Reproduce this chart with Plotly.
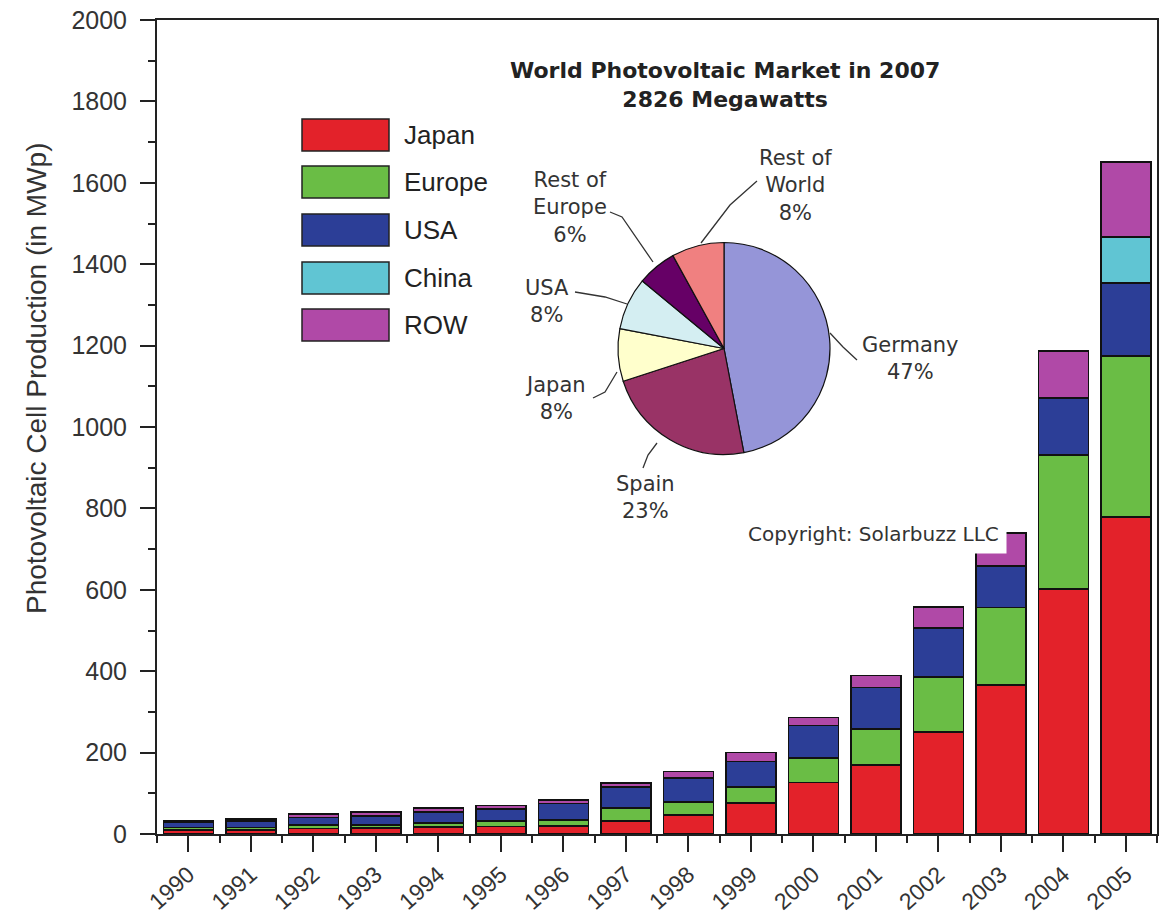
import plotly.graph_objects as go

# ---------------- data ----------------
years = [1990, 1991, 1992, 1993, 1994, 1995, 1996, 1997,
         1998, 1999, 2000, 2001, 2002, 2003, 2004, 2005]
series_names = ["Japan", "Europe", "USA", "China", "ROW"]
japan  = [10, 10, 14, 15, 17, 19, 20, 32, 47, 76, 126, 170, 251, 366, 602, 779]
europe = [6, 6, 8, 7, 10, 13, 15, 32, 32, 40, 61, 88, 135, 190, 329, 395]
usa    = [12, 16, 18, 22, 27, 29, 40, 51, 58, 62, 79, 102, 120, 103, 140, 180]
china  = [0, 0, 0, 0, 0, 0, 0, 0, 0, 0, 0, 0, 0, 0, 0, 113]
row    = [4, 5, 9, 10, 10, 9, 9, 10, 16, 22, 20, 29, 52, 80, 116, 184]
series_values = [japan, europe, usa, china, row]
series_colors = ["#e3222a", "#6abd45", "#2c3e97", "#60c5d3", "#b049a7"]

y_ticks = [0, 200, 400, 600, 800, 1000, 1200, 1400, 1600, 1800, 2000]

pie_labels = ["Germany", "Spain", "Japan", "USA", "Rest of Europe", "Rest of World"]
pie_values = [47, 23, 8, 8, 6, 8]
pie_colors = ["#9595d8", "#993366", "#ffffcc", "#d4eef2", "#660066", "#f08080"]
pie_title = "World Photovoltaic Market in 2007<br>2826 Megawatts"

# ---------------- layout helpers ----------------
W, H = 1163, 914
L, R, T, B = 157, 6, 20, 80
PW, PH = W - L - R, H - T - B


def px(x):
    return (x - L) / PW


def py(y):
    return (H - B - y) / PH


fig = go.Figure()

for name, vals, col in zip(series_names, series_values, series_colors):
    fig.add_trace(go.Bar(
        x=years, y=vals, name=name, width=0.8,
        marker=dict(color=col, line=dict(color="#111111", width=1.5)),
        showlegend=False,
    ))

fig.add_trace(go.Pie(
    labels=pie_labels, values=pie_values, sort=False, direction="clockwise",
    rotation=0, textinfo="none", hoverinfo="label+percent",
    marker=dict(colors=pie_colors, line=dict(color="#111111", width=1.2)),
    domain=dict(x=[px(618), px(830)], y=[py(455), py(242)]),
    showlegend=False,
))

shapes = []
annotations = []

# custom legend with large swatches
row_centers = [135, 182, 230, 278, 325]
for name, col, yc in zip(series_names, series_colors, row_centers):
    shapes.append(dict(type="rect", xref="paper", yref="paper",
                       x0=px(302), x1=px(389), y0=py(yc + 16), y1=py(yc - 16),
                       fillcolor=col, line=dict(color="#222222", width=1.5)))
    annotations.append(dict(xref="paper", yref="paper", x=px(402), y=py(yc),
                            xanchor="left", yanchor="middle", showarrow=False,
                            text=name,
                            font=dict(family="Liberation Sans, Arial", size=26, color="#222222")))

# pie labels and leader lines
label_pos = {
    "Germany": (910, 358),
    "Spain": (645, 497),
    "Japan": (555, 398),
    "USA": (547, 301),
    "Rest of Europe": (570, 207),
    "Rest of World": (795, 185),
}
leaders = {
    "Germany": [(830, 333), (843, 347), (857, 360)],
    "Spain": [(657, 443), (648, 455), (643, 468)],
    "Japan": [(617, 372), (605, 392), (593, 398)],
    "USA": [(575, 292), (605, 297), (627, 304)],
    "Rest of Europe": [(610, 212), (622, 217), (653, 262)],
    "Rest of World": [(757, 181), (730, 205), (701, 243)],
}
for lab, val in zip(pie_labels, pie_values):
    txt = lab.replace("Rest of ", "Rest of<br>") + "<br>" + f"{val}%"
    xx, yy = label_pos[lab]
    annotations.append(dict(xref="paper", yref="paper", x=px(xx), y=py(yy),
                            xanchor="center", yanchor="middle", showarrow=False,
                            text=txt, align="center",
                            font=dict(family="DejaVu Sans", size=21, color="#333333")))
    pts = leaders[lab]
    path = "M " + " L ".join(f"{px(a):.5f},{py(b):.5f}" for a, b in pts)
    shapes.append(dict(type="path", xref="paper", yref="paper", path=path,
                       line=dict(color="#333333", width=1.3)))

annotations.append(dict(xref="paper", yref="paper", x=px(725), y=py(85),
                        xanchor="center", yanchor="middle", showarrow=False,
                        text="<b>" + pie_title + "</b>", align="center",
                        font=dict(family="DejaVu Sans", size=22, color="#222222")))

annotations.append(dict(xref="paper", yref="paper", x=px(873), y=py(534),
                        xanchor="center", yanchor="middle", showarrow=False,
                        text="Copyright: Solarbuzz LLC", bgcolor="white", borderpad=7,
                        font=dict(family="DejaVu Sans", size=20, color="#333333")))

annotations.append(dict(xref="paper", yref="paper", x=px(36), y=py(378),
                        xanchor="center", yanchor="middle", showarrow=False,
                        text="Photovoltaic Cell Production (in MWp)", textangle=-90,
                        font=dict(family="Liberation Sans, Arial", size=28, color="#333333")))

fig.update_layout(
    width=W, height=H,
    margin=dict(l=L, r=R, t=T, b=B),
    barmode="stack",
    plot_bgcolor="white", paper_bgcolor="white",
    shapes=shapes, annotations=annotations,
    font=dict(family="Liberation Sans, Arial", color="#333333"),
    xaxis=dict(
        range=[1989.5, 2005.5], tickmode="array", tickvals=years,
        ticktext=[str(y) for y in years], tickangle=-42,
        ticks="outside", ticklen=16, tickwidth=2, tickcolor="#222222",
        minor=dict(ticks="outside", ticklen=7, tickwidth=2, tickcolor="#222222",
                   tick0=1989.5, dtick=1),
        showline=True, linewidth=2, linecolor="#222222", mirror=True,
        showgrid=False, zeroline=False, automargin=False,
        tickfont=dict(family="Liberation Sans, Arial", size=23, color="#333333"),
    ),
    yaxis=dict(
        range=[0, 2000], tickmode="array", tickvals=y_ticks,
        ticks="outside", ticklen=15, tickwidth=2, tickcolor="#222222",
        minor=dict(ticks="outside", ticklen=7, tickwidth=2, tickcolor="#222222",
                   tick0=0, dtick=100),
        showline=True, linewidth=2, linecolor="#222222", mirror=True,
        showgrid=False, zeroline=False, ticklabelstandoff=8, automargin=False,
        tickfont=dict(family="Liberation Sans, Arial", size=25, color="#333333"),
    ),
)

fig.write_html("out.html")
